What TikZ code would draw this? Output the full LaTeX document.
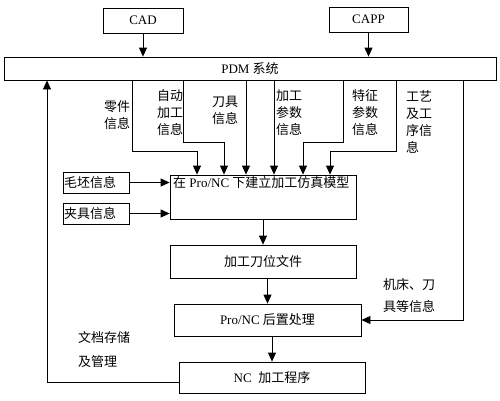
\documentclass[tikz,border=0pt]{standalone}
\usepackage{fontspec}
\setmainfont{Liberation Serif}
\newfontfamily\cjk{Noto Sans CJK SC}
\usetikzlibrary{arrows.meta,positioning}
\newcommand{\zh}[1]{{\cjk #1}}
\tikzset{
  box/.style={draw,line width=0.8pt,inner sep=0pt},
  infobox/.style={box,text width=64pt,minimum height=21pt,inner xsep=1pt,align=left,font=\fontsize{13}{17}\cjk},
  zhlbl/.style={inner sep=0pt,align=center,font=\fontsize{13}{17}\cjk},
  arr/.style={line width=0.8pt,-{Triangle[length=9pt,width=8pt]}}
}
\begin{document}
\begin{tikzpicture}[x=1pt,y=-1pt,font=\fontsize{13}{17}\selectfont]
\useasboundingbox (0,0) rectangle (500,400);
% CAD, CAPP
\node[box,minimum width=80pt,minimum height=25pt] (cad) at (143,20.5) {CAD};
\node[box,minimum width=79pt,minimum height=25pt] (capp) at (368.5,19.5) {CAPP};
% PDM
\node[box,minimum width=492pt,minimum height=23pt] (pdm) at (250,68.5) {PDM \zh{系统}};
\draw[arr] (cad) -- (cad.south |- pdm.north); % cad arrow
\draw[arr] (capp) -- (capp.south |- pdm.north); % capp arrow
% model
\node[box,minimum width=186pt,minimum height=44pt] (model) at (263,197) {};
\node[anchor=west,inner sep=0pt] (modeltxt) at (173,183) {\zh{在} Pro/NC \zh{下建立加工仿真模型}};
\node[infobox] (blank) at (96,182.5) {毛坯信息};
\node[infobox] (fixture) at (96,213.5) {夹具信息};
\draw[arr] (blank) -- (blank -| model.west); % blank arrow
\draw[arr] (fixture) -- (fixture -| model.west); % fixture arrow
% PDM to model
\coordinate (part) at (197,151);
\coordinate (auto) at (224,142);
\coordinate (feat) at (303,142);
\coordinate (proc) at (330,151);
\draw[arr] (pdm.south -| 132,0) |- (part) -- (part |- model.north); % part line
\draw[arr] (pdm.south -| 183,0) |- (auto) -- (auto |- model.north); % auto line
\draw[arr] (pdm.south -| 246,0) -- (model.north -| 246,0); % tool line
\draw[arr] (pdm.south -| 274,0) -- (model.north -| 274,0); % param line
\draw[arr] (pdm.south -| 343,0) |- (feat) -- (feat |- model.north); % feature line
\draw[arr] (pdm.south -| 396,0) |- (proc) -- (proc |- model.north); % process line
\node[zhlbl] (partlbl) at (117,115) {零件\\信息};
\node[zhlbl] (autolbl) at (170,113) {自动\\加工\\信息};
\node[zhlbl] (toollbl) at (225,110) {刀具\\信息};
\node[zhlbl] (paramlbl) at (289,113) {加工\\参数\\信息};
\node[zhlbl] (featlbl) at (365,113) {特征\\参数\\信息};
\node[zhlbl,text width=27pt,align=left] (proclbl) at (419.5,121.5) {工艺\\及工\\序信\\息};
% chain
\node[box,minimum width=186pt,minimum height=33pt,font=\fontsize{13}{17}\cjk] (cl) at (263,261.5) {加工刀位文件};
\node[box,minimum width=187pt,minimum height=32pt] (post) at (267.5,320) {Pro/NC \zh{后置处理}};
\node[box,minimum width=186pt,minimum height=31pt] (ncp) at (272,377.5) {NC\ \ \zh{加工程序}};
\draw[arr] (model) -- (model.south |- cl.north); % model to cl
\draw[arr] (post.north |- cl.south) -- (post.north); % cl to post
\draw[arr] (ncp.north |- post.south) -- (ncp.north); % post to nc
% loops
\draw[arr] (pdm.south -| 463,0) |- (post.east); % machine info
\draw[arr] ([yshift=-4.5pt]ncp.west) -| (pdm.south -| 47,0); % storage
\node[zhlbl,text width=53pt,align=left] (machlbl) at (409.5,296) {机床、刀\\[5pt]具等信息};
\node[zhlbl,text width=53pt,align=left] (storelbl) at (104.5,350) {文档存储\\[7pt]及管理};
\end{tikzpicture}
\end{document}
